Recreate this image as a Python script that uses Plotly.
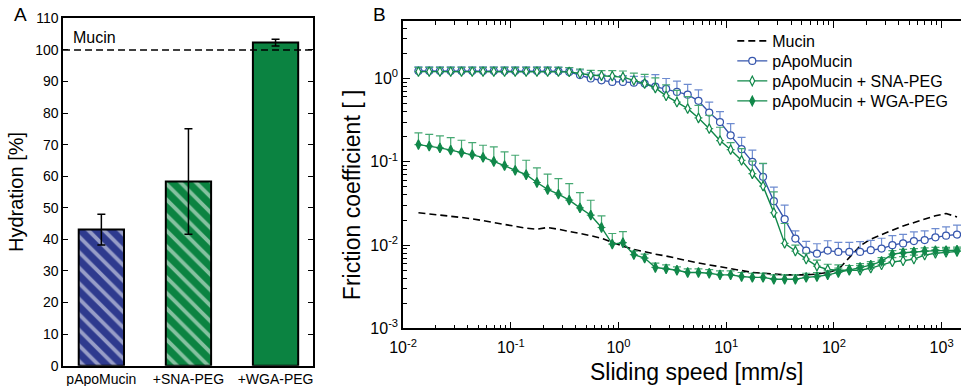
import plotly.graph_objects as go

# ---------------- Panel A data ----------------
hyd_categories = ["pApoMucin", "+SNA-PEG", "+WGA-PEG"]
hyd_values = [43.1, 58.3, 102.3]
hyd_errors = [4.85, 16.7, 1.05]
mucin_ref = 100

# ---------------- Panel B data ----------------
speed = [0.0139, 0.0175, 0.0220, 0.0277, 0.0349, 0.0439, 0.0553, 0.0696, 0.0876, 0.110,
         0.139, 0.175, 0.220, 0.277, 0.349, 0.439, 0.553, 0.696, 0.876, 1.10,
         1.39, 1.75, 2.20, 2.77, 3.49, 4.39, 5.53, 6.96, 8.76, 11.0,
         13.9, 17.5, 22.0, 27.7, 34.9, 43.9, 55.3, 69.6, 87.6, 110,
         139, 175, 220, 277, 349, 439, 553, 696, 876, 1100, 1390]

mucin = [0.0245, 0.0238, 0.0232, 0.0224, 0.0215, 0.0207, 0.0198, 0.0187, 0.0177, 0.0167,
         0.0160, 0.0155, 0.0163, 0.0155, 0.0145, 0.0138, 0.0130, 0.0121, 0.0108, 0.0097,
         0.0089, 0.0083, 0.0078, 0.0074, 0.0069, 0.0065, 0.0061, 0.0058, 0.0055, 0.0052,
         0.0049, 0.0047, 0.0046, 0.0045, 0.0044, 0.0044, 0.0044, 0.0045, 0.0047, 0.0051,
         0.0072, 0.0098, 0.0118, 0.0135, 0.0151, 0.0170, 0.0188, 0.0207, 0.0225, 0.0240, 0.0218]

papo = [1.23, 1.23, 1.23, 1.23, 1.23, 1.23, 1.23, 1.23, 1.23, 1.23,
        1.23, 1.23, 1.23, 1.22, 1.20, 1.10, 1.00, 0.95, 0.91, 0.91,
        0.89, 0.87, 0.80, 0.75, 0.69, 0.64, 0.54, 0.39, 0.30, 0.208,
        0.142, 0.100, 0.066, 0.0337, 0.0205, 0.0120, 0.0086, 0.0079, 0.0086, 0.0083,
        0.0083, 0.0083, 0.0087, 0.0091, 0.0100, 0.0105, 0.0112, 0.0115, 0.0124, 0.0130, 0.0134]
papo_err = [0.15, 0.15, 0.15, 0.15, 0.15, 0.15, 0.15, 0.15, 0.15, 0.15,
            0.15, 0.15, 0.15, 0.15, 0.15, 0.17, 0.17, 0.17, 0.17, 0.17,
            0.17, 0.18, 0.31, 0.25, 0.24, 0.21, 0.19, 0.13, 0.10, 0.08,
            0.055, 0.038, 0.029, 0.016, 0.0097, 0.0028, 0.0025, 0.0025, 0.0027, 0.0025,
            0.0025, 0.0027, 0.0027, 0.0030, 0.0030, 0.0030, 0.0032, 0.0033, 0.0034, 0.0036, 0.0040]

sna = [1.21, 1.21, 1.21, 1.21, 1.21, 1.21, 1.21, 1.21, 1.21, 1.21,
       1.21, 1.21, 1.21, 1.21, 1.20, 1.15, 1.10, 1.08, 1.07, 1.04,
       0.95, 0.87, 0.77, 0.62, 0.52, 0.435, 0.336, 0.25, 0.18, 0.14,
       0.104, 0.072, 0.051, 0.0245, 0.0105, 0.0085, 0.0068, 0.0056, 0.0051, 0.0050,
       0.0050, 0.0050, 0.0053, 0.0058, 0.0063, 0.0065, 0.0068, 0.0076, 0.0080, 0.0082, 0.0084]
sna_err = [0.15, 0.15, 0.15, 0.15, 0.15, 0.15, 0.15, 0.15, 0.15, 0.15,
           0.15, 0.15, 0.15, 0.15, 0.15, 0.15, 0.15, 0.16, 0.17, 0.19,
           0.21, 0.25, 0.25, 0.22, 0.20, 0.17, 0.14, 0.11, 0.08, 0.03,
           0.04, 0.03, 0.045, 0.019, 0.0077, 0.0015, 0.0012, 0.0010, 0.0008, 0.0008,
           0.0007, 0.0007, 0.0007, 0.0008, 0.0008, 0.0008, 0.0008, 0.0008, 0.0008, 0.0008, 0.0008]

wga = [0.161, 0.154, 0.147, 0.138, 0.129, 0.122, 0.113, 0.101, 0.090, 0.079,
       0.070, 0.0565, 0.0466, 0.0409, 0.0347, 0.028, 0.0229, 0.0163, 0.0103, 0.0107,
       0.0077, 0.0070, 0.0054, 0.0052, 0.0050, 0.0047, 0.0047, 0.0046, 0.0044, 0.0044,
       0.0042, 0.0041, 0.0041, 0.0039, 0.0039, 0.0039, 0.0041, 0.0042, 0.0044, 0.0047,
       0.0051, 0.0054, 0.00575, 0.0064, 0.0078, 0.0081, 0.0083, 0.0085, 0.0086, 0.0086, 0.0087]
wga_err = [0.061, 0.060, 0.058, 0.057, 0.0525, 0.048, 0.045, 0.050, 0.0415, 0.041,
           0.0345, 0.028, 0.0244, 0.022, 0.020, 0.0148, 0.0117, 0.0062, 0.0035, 0.0038,
           0.0008, 0.0008, 0.0007, 0.0006, 0.0005, 0.0005, 0.0005, 0.0005, 0.0005, 0.0005,
           0.0005, 0.0005, 0.0005, 0.0005, 0.0005, 0.0005, 0.0005, 0.0005, 0.0005, 0.0006,
           0.0006, 0.0006, 0.0006, 0.0007, 0.0008, 0.0008, 0.0008, 0.0008, 0.0008, 0.0008, 0.0008]

x_tickvals = [0.01, 0.1, 1, 10, 100, 1000]
x_ticktext = ["10<sup>-2</sup>", "10<sup>-1</sup>", "10<sup>0</sup>",
              "10<sup>1</sup>", "10<sup>2</sup>", "10<sup>3</sup>"]
y_tickvals = [0.001, 0.01, 0.1, 1]
y_ticktext = ["10<sup>-3</sup>", "10<sup>-2</sup>", "10<sup>-1</sup>", "10<sup>0</sup>"]

FONT = "Liberation Sans, Arial, sans-serif"
BLUE_BAR = "#2e3a8e"
GREEN_BAR = "#0b8341"
BLUE = "#3656ad"
BLUE_ERR = "#6d8bd0"
GREEN = "#11884a"
GREEN_ERR = "#45a872"

fig = go.Figure()

# ---- Panel A bars ----
patterns = [dict(shape="\\", fgcolor="white", bgcolor=BLUE_BAR, size=11, solidity=0.35),
            dict(shape="\\", fgcolor="white", bgcolor=GREEN_BAR, size=11, solidity=0.35),
            dict(shape="", bgcolor=GREEN_BAR)]
bar_colors = [BLUE_BAR, GREEN_BAR, GREEN_BAR]
for i, cat in enumerate(hyd_categories):
    fig.add_trace(go.Bar(
        x=[cat], y=[hyd_values[i]], width=0.52,
        marker=dict(color=bar_colors[i], line=dict(color="black", width=2),
                    pattern=patterns[i]),
        error_y=dict(type="data", array=[hyd_errors[i]], color="black",
                     thickness=1.5, width=4),
        xaxis="x", yaxis="y", showlegend=False))

fig.add_shape(type="line", xref="x domain", yref="y", x0=0, x1=1,
              y0=mucin_ref, y1=mucin_ref,
              line=dict(color="black", width=1.5, dash="7px,4px"))

# ---- Panel B lines ----
fig.add_trace(go.Scatter(
    x=speed, y=mucin, mode="lines", name="Mucin",
    line=dict(color="black", width=1.6, dash="7px,4px"),
    xaxis="x2", yaxis="y2", legend="legend"))

def series(y, err, name, color, ecolor, symbol, size, fill, leg):
    return go.Scatter(
        x=speed, y=y, mode="lines+markers", name=name,
        line=dict(color=color, width=1.4),
        marker=dict(symbol=symbol, size=size, color=fill,
                    line=dict(color=color, width=1.2)),
        error_y=dict(type="data", symmetric=False, array=err,
                     arrayminus=[0] * len(err), color=ecolor,
                     thickness=1.2, width=4),
        xaxis="x2", yaxis="y2", legend=leg)

fig.add_trace(series(papo, papo_err, "pApoMucin", BLUE, BLUE_ERR,
                     "circle", 7, "white", "legend2"))
fig.add_trace(series(sna, sna_err, "pApoMucin + SNA-PEG", GREEN, GREEN_ERR,
                     "diamond-tall", 7, "white", "legend3"))
fig.add_trace(series(wga, wga_err, "pApoMucin + WGA-PEG", GREEN, GREEN_ERR,
                     "diamond-tall", 7, GREEN, "legend4"))

minor_vals = [m * 10.0 ** e for e in range(-3, 4) for m in range(2, 10)]

axis_common = dict(showline=True, linecolor="black", linewidth=1.5,
                   showgrid=False, zeroline=False, ticks="inside",
                   tickcolor="black", automargin=False)

def leg(ypix):
    return dict(x=0.762, y=1 - ypix / 386, xanchor="left", yanchor="middle",
                bgcolor="rgba(0,0,0,0)", font=dict(size=16), itemwidth=30)

fig.update_layout(
    width=961, height=386,
    margin=dict(l=0, r=0, t=0, b=0),
    paper_bgcolor="white", plot_bgcolor="white",
    font=dict(family=FONT, color="black"),
    barmode="overlay",
    xaxis=dict(domain=[0.0656, 0.3257], range=[-0.44, 2.43], type="category",
               showline=True, linecolor="black", linewidth=1.5, mirror=True,
               ticks="", showgrid=False, tickfont=dict(size=14), anchor="y",
               automargin=False),
    yaxis=dict(domain=[0.0526, 0.9526], range=[0, 110], dtick=10,
               mirror="ticks", ticklen=5, tickfont=dict(size=14),
               title=dict(text="Hydration [%]", font=dict(size=20), standoff=6),
               anchor="x", **axis_common),
    xaxis2=dict(domain=[0.4194, 1.0], type="log", range=[-2, 3.18],
                tickmode="array", tickvals=x_tickvals, ticktext=x_ticktext,
                ticklen=7, mirror="ticks", tickfont=dict(size=16),
                ticklabelstandoff=4,
                minor=dict(tickmode="array", tickvals=minor_vals, ticks="inside",
                           ticklen=4, tickcolor="black"),
                anchor="y2", **axis_common),
    yaxis2=dict(domain=[0.149, 0.9456], type="log", range=[-3, 0.69],
                tickmode="array", tickvals=y_tickvals, ticktext=y_ticktext,
                ticklen=7, tickfont=dict(size=16),
                minor=dict(tickmode="array", tickvals=minor_vals, ticks="inside",
                           ticklen=4, tickcolor="black"),
                anchor="x2", **axis_common),
    legend=leg(41), legend2=leg(61), legend3=leg(81), legend4=leg(101),
    annotations=[
        dict(text="A", x=0.012, y=0.995, xref="paper", yref="paper",
             xanchor="left", yanchor="top", showarrow=False, font=dict(size=19)),
        dict(text="B", x=0.386, y=0.995, xref="paper", yref="paper",
             xanchor="left", yanchor="top", showarrow=False, font=dict(size=19)),
        dict(text="Mucin", x=0.03, y=103.9, xref="x domain", yref="y",
             xanchor="left", yanchor="middle", showarrow=False, font=dict(size=16)),
        dict(text="Sliding speed [mm/s]", x=0.7245, y=0.036, xref="paper", yref="paper",
             xanchor="center", yanchor="middle", showarrow=False, font=dict(size=23)),
        dict(text="Friction coefficient [ ]", x=0.3665, y=0.495, xref="paper", yref="paper",
             xanchor="center", yanchor="middle", textangle=-90, showarrow=False,
             font=dict(size=23)),
    ],
)

fig.write_html("out.html", config={"displayModeBar": False},
               post_script="document.body.style.margin='0';document.body.style.overflow='hidden';")
